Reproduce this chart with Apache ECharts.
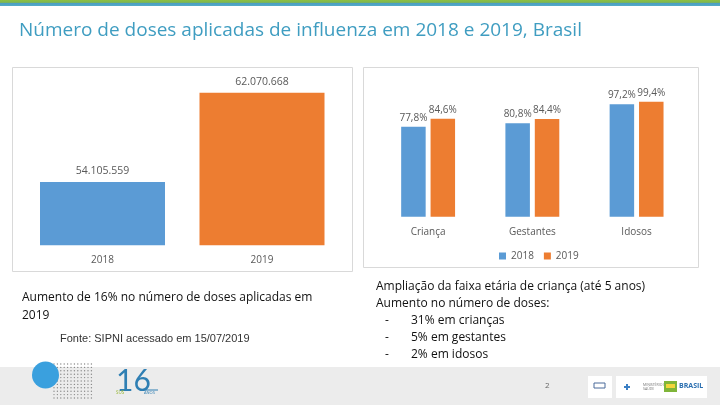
<!DOCTYPE html>
<html>
<head>
<meta charset="utf-8">
<script src="https://cdn.jsdelivr.net/npm/echarts@6/dist/echarts.min.js"></script>
<style>
html,body{margin:0;padding:0;background:#fff;}
#chart{width:720px;height:405px;}
</style>
</head>
<body>
<div id="chart"></div>
<script>
// ---- data ----
const titleText = 'Número de doses aplicadas de influenza em 2018 e 2019, Brasil';
const leftCategories = ['2018', '2019'];
const leftValues = [54105559, 62070668];
const rightCategories = ['Criança', 'Gestantes', 'Idosos'];
const seriesNames = ['2018', '2019'];
const values2018 = [77.8, 80.8, 97.2];
const values2019 = [84.6, 84.4, 99.4];
const noteLeft = ['Aumento de 16% no número de doses aplicadas em', '2019'];
const sourceText = 'Fonte: SIPNI acessado em 15/07/2019';
const noteRight = ['Ampliação da faixa etária de criança (até 5 anos)', 'Aumento no número de doses:'];
const bulletItems = ['31% em crianças', '5% em gestantes', '2% em idosos'];
const pageNumber = '2';

// ---- styles ----
const BLUE = '#5b9bd5', ORANGE = '#ed7d31';
const leftColors = [BLUE, ORANGE];
const LABEL = '#595959';
const FONT = 'Open Sans';

function fmtThousands(v) {
  return String(v).replace(/\B(?=(\d{3})+(?!\d))/g, '.');
}
function fmtPct(v) {
  return String(v.toFixed(1)).replace('.', ',') + '%';
}

const chart = echarts.init(document.getElementById('chart'), null, {renderer: 'canvas'});

// decorative dot grid next to the circle
const dots = [];
for (let r = 0; r < 11; r++) {
  for (let c = 0; c < 12; c++) {
    dots.push({
      type: 'circle', silent: true, z: 2,
      shape: {cx: 54 + c * 3.4, cy: 364 + r * 3.4, r: 0.7},
      style: {fill: '#8a8a8a'}
    });
  }
}

const graphics = [
  // top gradient bar
  {type: 'rect', shape: {x: 0, y: 0, width: 720, height: 6}, silent: true,
   style: {fill: new echarts.graphic.LinearGradient(0, 0, 0, 1, [
     {offset: 0, color: '#8cc141'}, {offset: 0.4, color: '#7fb651'},
     {offset: 0.55, color: '#4a9fc2'}, {offset: 1, color: '#55aac8'}])}},
  // title
  {type: 'text', left: 19, top: 21, silent: true,
   style: {text: titleText, fontFamily: FONT, fontSize: 19, fill: '#3f9dc1'}},
  // chart boxes
  {type: 'rect', silent: true, z: -1, shape: {x: 12.5, y: 67.5, width: 340, height: 204},
   style: {fill: '#fff', stroke: '#d9d9d9', lineWidth: 1}},
  {type: 'rect', silent: true, z: -1, shape: {x: 363.5, y: 67.5, width: 335, height: 200},
   style: {fill: '#fff', stroke: '#d9d9d9', lineWidth: 1}},
  // left notes
  {type: 'text', left: 22, top: 292, silent: true,
   style: {text: noteLeft[0], fontFamily: FONT, fontSize: 12, fontWeight: 500, fill: '#111'}},
  {type: 'text', left: 22, top: 310, silent: true,
   style: {text: noteLeft[1], fontFamily: FONT, fontSize: 12, fontWeight: 500, fill: '#111'}},
  {type: 'text', left: 60, top: 333, silent: true,
   style: {text: sourceText, fontFamily: 'Liberation Sans', fontSize: 11, fill: '#333'}},
  // right notes
  {type: 'text', left: 376, top: 281, silent: true,
   style: {text: noteRight[0], fontFamily: FONT, fontSize: 12, fontWeight: 500, fill: '#111'}},
  {type: 'text', left: 376, top: 298, silent: true,
   style: {text: noteRight[1], fontFamily: FONT, fontSize: 12, fontWeight: 500, fill: '#111'}},
  // footer band
  {type: 'rect', silent: true, z: 1, shape: {x: 0, y: 367, width: 720, height: 38},
   style: {fill: '#ececec'}},
  {type: 'circle', silent: true, z: 3, shape: {cx: 45.5, cy: 375, r: 13.5},
   style: {fill: '#3aa0de'}},
  // 16 anos logo
  {type: 'text', left: 116, top: 366, silent: true, z: 3,
   style: {text: '16', fontFamily: 'Lato', fontWeight: 400, fontSize: 30, fill: '#2f7fb3'}},
  {type: 'line', silent: true, z: 3, shape: {x1: 140, y1: 390, x2: 158, y2: 390},
   style: {stroke: '#2f7fb3', lineWidth: 1}},
  {type: 'text', left: 116, top: 390, silent: true, z: 3,
   style: {text: 'SUS', fontFamily: FONT, fontSize: 4.5, fill: '#9ab83a'}},
  {type: 'text', left: 144, top: 391, silent: true, z: 3,
   style: {text: 'ANOS', fontFamily: FONT, fontSize: 4, fill: '#2f7fb3'}},
  // page number
  {type: 'text', left: 545, top: 382, silent: true, z: 3,
   style: {text: pageNumber, fontFamily: FONT, fontSize: 8, fill: '#666'}},
  // right logos
  {type: 'rect', silent: true, z: 3, shape: {x: 588, y: 376, width: 24, height: 22},
   style: {fill: '#fff'}},
  {type: 'rect', silent: true, z: 4, shape: {x: 594, y: 383, width: 11, height: 5},
   style: {fill: '#fff', stroke: '#4a6a9a', lineWidth: 1}},
  {type: 'rect', silent: true, z: 3, shape: {x: 616, y: 376, width: 91, height: 22},
   style: {fill: '#fff'}},
  {type: 'rect', silent: true, z: 4, shape: {x: 624, y: 386, width: 6, height: 2},
   style: {fill: '#3b7fc4'}},
  {type: 'rect', silent: true, z: 4, shape: {x: 626, y: 384, width: 2, height: 6},
   style: {fill: '#3b7fc4'}},
  {type: 'text', left: 643, top: 383, silent: true, z: 4,
   style: {text: 'MINISTÉRIO DA\nSAÚDE', fontFamily: FONT, fontSize: 3.5, fill: '#777', align: 'center', lineHeight: 4}},
  {type: 'rect', silent: true, z: 4, shape: {x: 664, y: 381, width: 13, height: 11},
   style: {fill: '#7fb539'}},
  {type: 'rect', silent: true, z: 5, shape: {x: 666, y: 384, width: 9, height: 4},
   style: {fill: '#f2d53a'}},
  {type: 'text', left: 679, top: 382, silent: true, z: 4,
   style: {text: 'BRASIL', fontFamily: FONT, fontWeight: 'bold', fontSize: 7, fill: '#2b6fb0'}}
].concat(dots);

bulletItems.forEach(function (t, i) {
  graphics.push({type: 'text', left: 385, top: 315 + i * 17, silent: true,
    style: {text: '-', fontFamily: FONT, fontSize: 12, fill: '#111'}});
  graphics.push({type: 'text', left: 411, top: 315 + i * 17, silent: true,
    style: {text: t, fontFamily: FONT, fontSize: 12, fontWeight: 500, fill: '#111'}});
});

const option = {
  animation: false,
  backgroundColor: '#fff',
  textStyle: {fontFamily: FONT},
  legend: {
    data: seriesNames,
    left: 494, top: 246,
    icon: 'rect', itemWidth: 7, itemHeight: 7, itemGap: 10,
    textStyle: {fontSize: 10, color: LABEL, fontFamily: FONT}
  },
  grid: [
    {left: 22.75, right: 378.25, top: 71.1, bottom: 159.7},
    {left: 376, right: 31.3, top: 77.9, bottom: 188.3}
  ],
  xAxis: [
    {type: 'category', gridIndex: 0, data: leftCategories,
     axisLine: {show: false}, axisTick: {show: false},
     axisLabel: {color: LABEL, fontSize: 10, margin: 10}},
    {type: 'category', gridIndex: 1, data: rightCategories,
     axisLine: {show: false}, axisTick: {show: false},
     axisLabel: {color: LABEL, fontSize: 10, margin: 10}}
  ],
  yAxis: [
    {type: 'value', gridIndex: 0, min: 48460000, max: 64000000, show: false, splitLine: {show: false}},
    {type: 'value', gridIndex: 1, min: 0, max: 120, show: false, splitLine: {show: false}}
  ],
  series: [
    {name: 'Doses', type: 'bar', xAxisIndex: 0, yAxisIndex: 0, data: leftValues,
     barWidth: 125,
     itemStyle: {color: function (p) { return leftColors[p.dataIndex]; }},
     label: {show: true, position: 'top', distance: 5, color: LABEL, fontSize: 10.5,
       formatter: function (p) { return fmtThousands(p.value); }}},
    {name: seriesNames[0], type: 'bar', xAxisIndex: 1, yAxisIndex: 1, data: values2018,
     barWidth: 24.5, barGap: '20%', itemStyle: {color: BLUE},
     label: {show: true, position: 'top', distance: 4, color: LABEL, fontSize: 10,
       formatter: function (p) { return fmtPct(p.value); }}},
    {name: seriesNames[1], type: 'bar', xAxisIndex: 1, yAxisIndex: 1, data: values2019,
     barWidth: 24.5, barGap: '20%', itemStyle: {color: ORANGE},
     label: {show: true, position: 'top', distance: 4, color: LABEL, fontSize: 10,
       formatter: function (p) { return fmtPct(p.value); }}}
  ],
  graphic: graphics
};
chart.setOption(option);
</script>
</body>
</html>
